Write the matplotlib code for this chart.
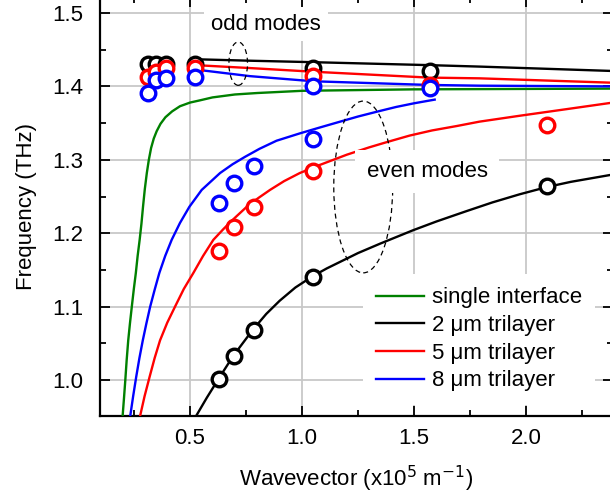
import matplotlib
import matplotlib.pyplot as plt
from matplotlib.patches import Ellipse
from matplotlib.ticker import MultipleLocator

matplotlib.use('agg')
plt.rcParams['font.family'] = ['Liberation Sans', 'DejaVu Sans']

# measured points (wavevector x1e5 m^-1, frequency THz)
x_odd = [0.314, 0.349, 0.393, 0.524, 1.047, 1.571]
x_even = [0.628, 0.698, 0.785, 1.047, 2.094]
black_odd = [1.431, 1.431, 1.431, 1.431, 1.425, 1.421]
red_odd = [1.413, 1.420, 1.425, 1.425, 1.414, 1.402]
blue_odd = [1.391, 1.409, 1.411, 1.413, 1.400, 1.398]
black_even = [1.001, 1.033, 1.068, 1.141, 1.264]
red_even = [1.176, 1.208, 1.236, 1.285, 1.347]
x_even_blue = [0.628, 0.698, 0.785, 1.047]
blue_even = [1.241, 1.268, 1.292, 1.328]

# model curves
green_x = [0.199, 0.205, 0.211, 0.217, 0.224, 0.232, 0.240, 0.249, 0.258, 0.266,
           0.275, 0.283, 0.290, 0.298, 0.307, 0.316, 0.326, 0.338, 0.351, 0.368,
           0.390, 0.420, 0.455, 0.500, 0.544, 0.600, 0.700, 0.800, 1.000, 1.500,
           2.388]
green_y = [0.951, 0.975, 1.000, 1.027, 1.054, 1.078, 1.100, 1.124, 1.146, 1.169,
           1.191, 1.213, 1.236, 1.260, 1.282, 1.300, 1.316, 1.329, 1.339, 1.349,
           1.358, 1.366, 1.373, 1.378, 1.381, 1.385, 1.389, 1.391, 1.394, 1.396,
           1.397]

black_cx = [0.527, 0.575, 0.626, 0.693, 0.779, 0.840, 0.900, 0.970, 1.045, 1.110,
            1.170, 1.250, 1.350, 1.495, 1.600, 1.733, 1.850, 1.971, 2.094, 2.200,
            2.388]
black_cy = [0.951, 0.976, 1.001, 1.033, 1.068, 1.090, 1.108, 1.126, 1.141, 1.152,
            1.161, 1.173, 1.186, 1.204, 1.216, 1.230, 1.242, 1.253, 1.263, 1.270,
            1.280]

red_cx = [0.277, 0.297, 0.320, 0.342, 0.366, 0.398, 0.433, 0.472, 0.515, 0.558,
          0.604, 0.650, 0.700, 0.753, 0.805, 0.857, 0.920, 0.990, 1.079, 1.200,
          1.300, 1.377, 1.480, 1.580, 1.690, 1.792, 1.971, 2.180, 2.388]
red_cy = [0.951, 0.978, 1.005, 1.030, 1.054, 1.078, 1.100, 1.124, 1.146, 1.169,
          1.191, 1.206, 1.221, 1.236, 1.248, 1.259, 1.271, 1.282, 1.293, 1.307,
          1.317, 1.324, 1.333, 1.340, 1.346, 1.352, 1.360, 1.369, 1.378]

blue_cx = [0.233, 0.246, 0.260, 0.274, 0.289, 0.305, 0.322, 0.342, 0.363, 0.389,
           0.418, 0.455, 0.497, 0.552, 0.634, 0.690, 0.745, 0.810, 0.886, 0.990,
           1.079, 1.170, 1.250, 1.340, 1.420, 1.500, 1.592]
blue_cy = [0.951, 0.978, 1.005, 1.030, 1.054, 1.077, 1.100, 1.123, 1.146, 1.169,
           1.191, 1.214, 1.236, 1.259, 1.282, 1.294, 1.304, 1.315, 1.326, 1.336,
           1.344, 1.352, 1.359, 1.366, 1.372, 1.377, 1.382]

odd_cx = [0.524, 0.767, 1.050, 1.566, 1.792, 2.388]
black_odd_cy = [1.437, 1.435, 1.433, 1.429, 1.427, 1.421]
red_odd_cy = [1.429, 1.425, 1.420, 1.412, 1.411, 1.405]
blue_odd_cy = [1.423, 1.414, 1.407, 1.402, 1.401, 1.400]

GREEN = '#008000'
FS = 16

fig = plt.figure(figsize=(6.1, 5.0), dpi=100)
ax = fig.add_axes([100 / 610, 84 / 500, 513 / 610, 419 / 500])

lw = 1.7
ax.plot(green_x, green_y, color=GREEN, lw=lw, label='single interface', zorder=3)
ax.plot(black_cx, black_cy, color='black', lw=lw, label='2 μm trilayer', zorder=3)
ax.plot(red_cx, red_cy, color='red', lw=lw, label='5 μm trilayer', zorder=3)
ax.plot(blue_cx, blue_cy, color='blue', lw=lw, label='8 μm trilayer', zorder=3)
ax.plot(odd_cx, black_odd_cy, color='black', lw=lw, zorder=3)
ax.plot(odd_cx, red_odd_cy, color='red', lw=lw, zorder=3)
ax.plot(odd_cx, blue_odd_cy, color='blue', lw=lw, zorder=3)

mk = dict(ls='none', marker='o', ms=10.5, mew=2.4, mfc='white', zorder=4, clip_on=False)
ax.plot(x_odd, black_odd, mec='black', **mk)
ax.plot(x_even, black_even, mec='black', **mk)
ax.plot(x_odd, red_odd, mec='red', **mk)
ax.plot(x_even, red_even, mec='red', **mk)
ax.plot(x_odd, blue_odd, mec='blue', **mk)
ax.plot(x_even_blue, blue_even, mec='blue', **mk)

ax.add_patch(Ellipse((0.715, 1.431), 0.083, 0.059, fill=False, ls=(0, (4, 3)),
                     lw=0.9, color='black', zorder=5))
ax.add_patch(Ellipse((1.273, 1.263), 0.263, 0.234, fill=False, ls=(0, (4, 3)),
                     lw=0.9, color='black', zorder=5))

ax.text(0.839, 1.485, 'odd modes', fontsize=FS, ha='center', va='center',
        bbox=dict(facecolor='white', edgecolor='none', pad=5), zorder=6)
ax.text(1.558, 1.284, 'even modes', fontsize=FS, ha='center', va='center',
        bbox=dict(facecolor='white', edgecolor='none', pad=8), zorder=6)

ax.set_xlim(0.098, 2.388)
ax.set_ylim(0.951, 1.5218)
ax.xaxis.set_major_locator(MultipleLocator(0.5))
ax.xaxis.set_minor_locator(MultipleLocator(0.25))
ax.yaxis.set_major_locator(MultipleLocator(0.1))
ax.yaxis.set_minor_locator(MultipleLocator(0.05))
ax.grid(True, which='major', color='#c8c8c8', lw=1.3, zorder=0)
ax.set_axisbelow(True)

ax.tick_params(which='both', direction='in', top=True, right=True, width=1.3,
               labelsize=FS)
ax.tick_params(which='major', length=7)
ax.tick_params(which='minor', length=4.5)
ax.tick_params(axis='y', pad=12)
ax.tick_params(axis='x', pad=9)
for s in ax.spines.values():
    s.set_linewidth(1.6)

ax.set_xlabel('Wavevector (x10$^5$ m$^{-1}$)', fontsize=FS, labelpad=10)
ax.set_ylabel('Frequency (THz)', fontsize=FS, labelpad=11)

leg = ax.legend(loc='lower left', bbox_to_anchor=((363 - 100) / 513, 0.027),
                fontsize=FS, frameon=True, fancybox=False, framealpha=1,
                edgecolor='none', handlelength=2.15, handletextpad=0.35,
                labelspacing=0.3, borderpad=0.6, borderaxespad=0.0)
leg.set_zorder(7)

fig.savefig('out.png', dpi=100)
